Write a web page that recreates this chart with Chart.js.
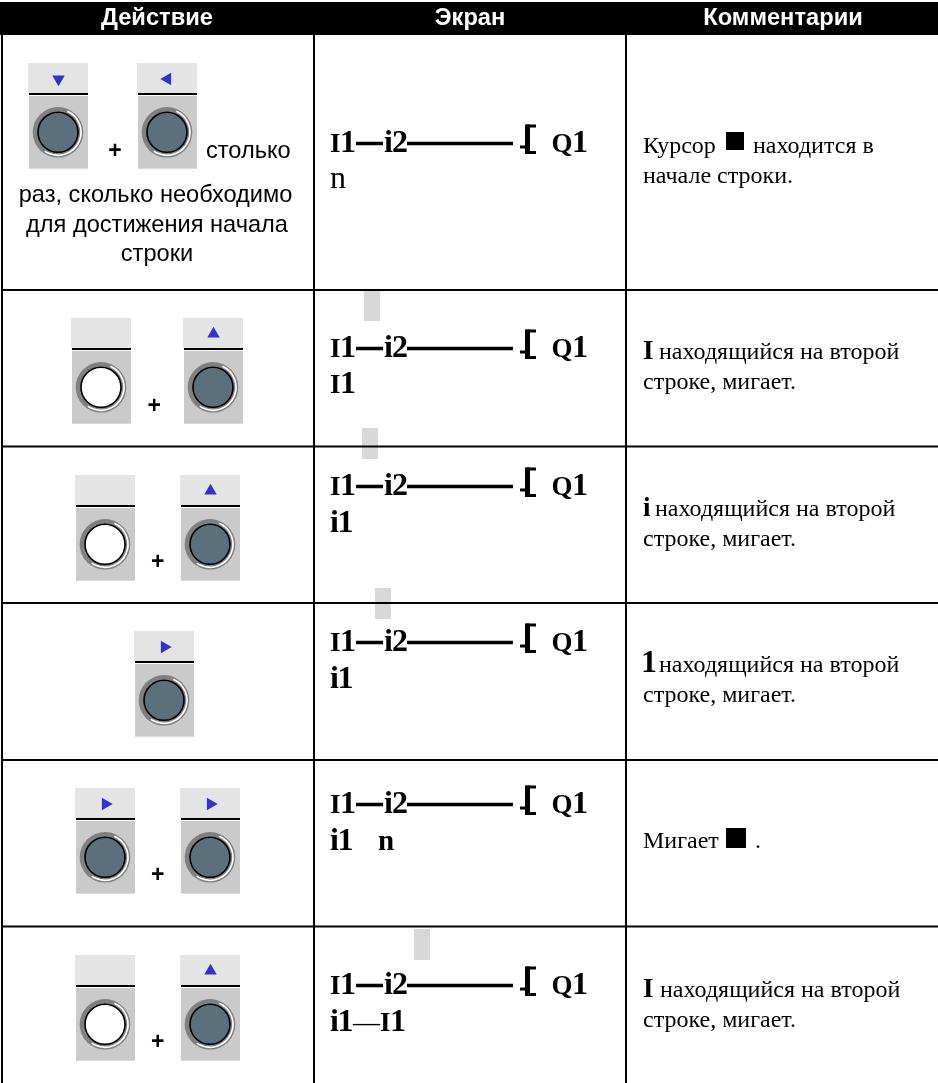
<!DOCTYPE html>
<html lang="ru">
<head>
<meta charset="utf-8">
<style>html,body{margin:0;padding:0;background:#fff}canvas{display:block}</style>
<script src="https://cdn.jsdelivr.net/npm/chart.js@4/dist/chart.umd.js"></script>
</head>
<body>
<canvas id="c" width="938" height="1083"></canvas>
<script>
const SANS='"Liberation Sans"', SERIF='"Liberation Serif"';
// table structure
const columnHeaders=['Действие','Экран','Комментарии'];
const headerCentres=[157,470,783];
const columnRules=[2,314,626];
const rowRules=[290,446.5,603,760,926.5];
// action column: [left, top, symbol, lit]
const buttons=[
 [28,63,'down',false],[137,63,'left',false],
 [71,318,'none',true],[183,318,'up',false],
 [75,475,'none',true],[180,475,'up',false],
 [134,631,'right',false],
 [75,788,'right',false],[180,788,'right',false],
 [75,955,'none',true],[180,955,'up',false]
];
const plusSigns=[[115,150],[154.3,405.7],[157.7,561.7],[157.7,874.7],[157.7,1041.7]];
const actionLines=[
 ['столько',206,157.5,'left'],
 ['раз, сколько необходимо',155.5,202,'center'],
 ['для достижения начала',157,231.7,'center'],
 ['строки',157,260.7,'center']
];
// screen column: [text, x, font size]
const screenBaselines=[152,357,495,651,813,994];
const screenTokens=[['I',330,27],['1',340,32],['i',384,32],['2',392,32],['Q',551.5,27],['1',572,32]];
const secondLineBaselines=[188,393,531.7,688,850,1031];
const secondLineTexts=[
 [['n',330,32,false]],
 [['I',330,27,true],['1',340,32,true]],
 [['i',330,32,true],['1',337.5,32,true]],
 [['i',330,32,true],['1',337.5,32,true]],
 [['i',330,32,true],['1',337.5,32,true],['n',378,29,true]],
 [['i',330,32,true],['1',337.5,32,true],['—',353,27,false],['I',380,27,true],['1',390,32,true]]
];
const blinkCells=[[364,291,380,321],[362,428,378,459],[375,588,391,619],[414,929,430,960]];
// comments column: [text, x, baseline, font]
const BODY='24px '+SERIF;
const comments=[
 ['Курсор',643,152.7,BODY],['находится в',753,152.7,BODY],['начале строки.',643,183,BODY],
 ['I',643,359,'bold 27px '+SERIF],['находящийся на второй',659,359,BODY],['строке, мигает.',643,389,BODY],
 ['i',643,515.7,'bold 27px '+SERIF],['находящийся на второй',655,515.7,BODY],['строке, мигает.',643,545.7,BODY],
 ['1',641,671.7,'bold 32px '+SERIF],['находящийся на второй',659,671.7,BODY],['строке, мигает.',643,701.7,BODY],
 ['Мигает',643,848.3,BODY],['.',755,848.3,BODY],
 ['I',643,996.7,'bold 27px '+SERIF],['находящийся на второй',660,996.7,BODY],['строке, мигает.',643,1026.7,BODY]
];
const cursorSquares=[[726,132,744,150],[726,828,746,848]];

function segments(list){const out=[];list.forEach(s=>{out.push({x:s[0],y:s[1]},{x:s[2],y:s[3]},{x:null,y:null});});return out;}
const thinRules=[];
columnRules.forEach(x=>thinRules.push([x,35,x,1083]));
rowRules.forEach(y=>thinRules.push([1,y,938,y]));
const buttonRules=buttons.map(b=>[b[0]+1,b[1]+31,b[0]+60,b[1]+31]);
const thickRules=[], stubRules=[], stemRules=[];
screenBaselines.forEach(b=>{
 thickRules.push([356,b-8.5,383,b-8.5],[407,b-8.5,513,b-8.5]);
 stubRules.push([520,b-5,526,b-5],[526,b-26,536,b-26],[526,b+0.5,536,b+0.5]);
 stemRules.push([527.5,b-27.5,527.5,b+2]);
});
function ruleDataset(list,w){return {type:'scatter',data:segments(list),showLine:true,spanGaps:false,borderColor:'#000',borderWidth:w,pointRadius:0,clip:false};}
function discDataset(lit,color){return {type:'scatter',
 data:buttons.filter(b=>b[3]===lit).map(b=>({x:b[0]+30,y:b[1]+69.3})),
 showLine:false,pointRadius:20,pointBorderWidth:1.6,pointBorderColor:'#000',pointBackgroundColor:color,clip:false};}
function arrowDataset(kind,rot){return {type:'scatter',
 data:buttons.filter(b=>b[2]===kind).map(b=>({x:b[0]+30.5,y:b[1]+16})),
 showLine:false,pointStyle:'triangle',pointRadius:7.2,pointRotation:rot,pointBorderWidth:0,pointBackgroundColor:'#3333cc',clip:false};}

const tablePainter={id:'tablePainter',
 beforeDatasetsDraw(chart){
  const {ctx,scales:{x:X,y:Y}}=chart;
  const rect=(a,b,c,d,col)=>{ctx.fillStyle=col;ctx.fillRect(X.getPixelForValue(a),Y.getPixelForValue(b),X.getPixelForValue(c)-X.getPixelForValue(a),Y.getPixelForValue(d)-Y.getPixelForValue(b));};
  ctx.save();
  rect(0,0,938,1083,'#fff');
  rect(0,2,938,35,'#000');
  blinkCells.forEach(r=>rect(r[0],r[1],r[2],r[3],'#d8d8d8'));
  cursorSquares.forEach(r=>rect(r[0],r[1],r[2],r[3],'#000'));
  buttons.forEach(b=>{
   rect(b[0],b[1],b[0]+60,b[1]+30,'#e4e4e4');
   rect(b[0]+1,b[1]+33,b[0]+60,b[1]+105.7,'#cacaca');
   const cx=X.getPixelForValue(b[0]+30), cy=Y.getPixelForValue(b[1]+69.3);
   ctx.fillStyle='#808080';ctx.beginPath();ctx.arc(cx,cy,25.3,0,Math.PI*2);ctx.fill();
   ctx.strokeStyle='#fff';ctx.lineWidth=1.7;ctx.beginPath();ctx.arc(cx,cy,23,-66*Math.PI/180,125*Math.PI/180);ctx.stroke();
  });
  ctx.restore();
 },
 afterDatasetsDraw(chart){
  const {ctx,scales:{x:X,y:Y}}=chart;
  const put=(s,x,y,font,col,al)=>{ctx.font=font;ctx.fillStyle=col;ctx.textAlign=al||'left';ctx.textBaseline='alphabetic';ctx.fillText(s,X.getPixelForValue(x),Y.getPixelForValue(y));};
  ctx.save();
  columnHeaders.forEach((s,i)=>put(s,headerCentres[i],25,'bold 23.7px '+SANS,'#fff','center'));
  actionLines.forEach(l=>put(l[0],l[1],l[2],'23.6px '+SANS,'#000',l[3]));
  plusSigns.forEach(p=>put('+',p[0],p[1]+7.6,'bold 23px '+SANS,'#000','center'));
  screenBaselines.forEach(b=>screenTokens.forEach(t=>put(t[0],t[1],b,'bold '+t[2]+'px '+SERIF,'#000')));
  secondLineTexts.forEach((parts,i)=>parts.forEach(p=>put(p[0],p[1],secondLineBaselines[i],(p[3]?'bold ':'')+p[2]+'px '+SERIF,'#000')));
  comments.forEach(c=>put(c[0],c[1],c[2],c[3],'#000'));
  ctx.restore();
 }
};

new Chart(document.getElementById('c'),{
 type:'scatter',
 data:{datasets:[
  arrowDataset('down',180),arrowDataset('left',270),arrowDataset('up',0),arrowDataset('right',90),
  discDataset(false,'#5b6f7c'),discDataset(true,'#ffffff'),
  ruleDataset(thinRules,2),ruleDataset(buttonRules,2),ruleDataset(thickRules,3.6),ruleDataset(stubRules,3),ruleDataset(stemRules,5)
 ]},
 options:{responsive:false,animation:false,devicePixelRatio:1,
  layout:{padding:0,autoPadding:false},
  plugins:{legend:{display:false},tooltip:{enabled:false},title:{display:false}},
  scales:{
   x:{type:'linear',min:0,max:938,display:false},
   y:{type:'linear',min:0,max:1083,reverse:true,display:false}
  }
 },
 plugins:[tablePainter]
});
</script>
</body>
</html>
